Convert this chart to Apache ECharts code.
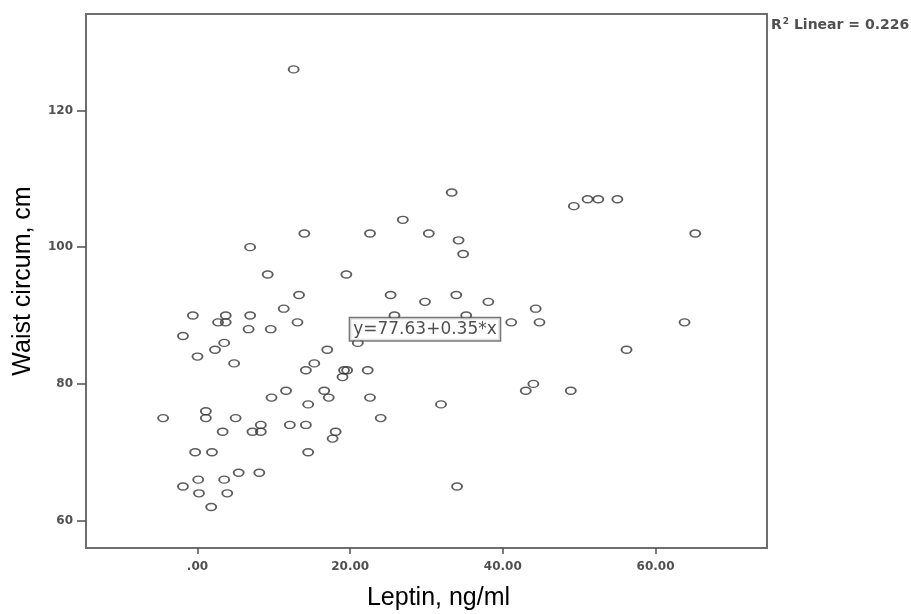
<!DOCTYPE html>
<html>
<head>
<meta charset="utf-8">
<script src="https://cdn.jsdelivr.net/npm/echarts@6/dist/echarts.min.js"></script>
<style>
  html, body { margin: 0; padding: 0; background: #fff; }
  #chart { width: 911px; height: 614px; }
</style>
</head>
<body>
<div id="chart"></div>
<script>
// Leptin (ng/ml) vs waist circumference (cm)
const leptin = [
  -4.5, -1.9, -1.9, -0.6, -0.3, 0.0, 0.1, 0.2, 1.1, 1.1,
  1.9, 1.8, 2.3, 2.7, 3.5, 3.7, 3.7, 3.3, 3.5, 3.9,
  4.8, 5.0, 5.4, 6.7, 6.9, 6.9, 7.2, 8.3, 8.3, 8.1,
  9.2, 9.6, 9.7, 11.3, 11.6, 12.1, 12.6, 13.1, 13.3, 14.0,
  14.2, 14.5, 14.2, 14.5, 15.3, 16.6, 17.0, 17.2, 18.1, 17.7,
  19.2, 19.6, 19.0, 19.5, 21.0, 22.3, 22.6, 22.6, 24.0, 25.3,
  25.8, 26.9, 29.8, 30.3, 31.9, 33.3, 33.9, 34.0, 34.2, 34.8,
  35.2, 38.1, 41.1, 43.0, 44.0, 44.3, 44.8, 48.9, 49.3, 51.1,
  52.5, 55.0, 56.2, 63.8, 65.2
];
const waist = [
  75, 87, 65, 90, 70, 84, 66, 64, 76, 75,
  70, 62, 85, 89, 86, 90, 89, 73, 66, 64,
  83, 75, 67, 88, 90, 100, 73, 73, 74, 67,
  96, 88, 78, 91, 79, 74, 126, 89, 93, 102,
  82, 77, 74, 70, 83, 79, 85, 78, 73, 72,
  82, 82, 81, 96, 86, 82, 78, 102, 75, 93,
  90, 104, 92, 102, 77, 108, 93, 65, 101, 99,
  90, 92, 89, 79, 80, 91, 89, 79, 106, 107,
  107, 107, 85, 89, 102
];
const xTicks = [0, 20, 40, 60];
const yTicks = [60, 80, 100, 120];
const fitLabel = 'y=77.63+0.35*x';
const fitAnchor = [29.8, 88.0];
const r2Text = '0.226';

const points = leptin.map((x, i) => [x, waist[i]]);

const chart = echarts.init(document.getElementById('chart'));

const tickFont = {
  color: '#505050',
  fontFamily: 'DejaVu Sans',
  fontWeight: 'bold',
  fontSize: 12
};
const frameLine = { color: '#6e6e6e', width: 2 };
const r2Font = { fontFamily: 'DejaVu Sans', fontWeight: 'bold', color: '#505050' };

const option = {
  animation: false,
  title: {
    left: 766,
    top: 12,
    text: '{r|R}{s|2}{t| Linear = ' + r2Text + '}',
    textStyle: {
      rich: {
        r: { ...r2Font, fontSize: 14 },
        s: { ...r2Font, fontSize: 9, verticalAlign: 'top', padding: [0, 0, 7, 1] },
        t: { ...r2Font, fontSize: 14 }
      }
    }
  },
  grid: {
    left: 86,
    right: 144,
    top: 14,
    bottom: 66,
    outerBoundsMode: 'none',
    show: true,
    borderColor: '#6e6e6e',
    borderWidth: 2,
    backgroundColor: '#fff'
  },
  xAxis: {
    type: 'value',
    min: -14.6,
    max: 74.6,
    name: 'Leptin, ng/ml',
    nameLocation: 'middle',
    nameGap: 38,
    nameTextStyle: {
      fontFamily: 'Liberation Sans',
      fontSize: 25,
      color: '#000',
      padding: [0, 0, 0, 24]
    },
    axisLine: { show: true, onZero: false, lineStyle: frameLine },
    splitLine: { show: false },
    axisTick: {
      show: true,
      inside: false,
      length: 6,
      customValues: xTicks,
      lineStyle: { color: '#505050', width: 1.5 }
    },
    axisLabel: {
      customValues: xTicks,
      margin: 13,
      formatter: v => (v === 0 ? '.00' : v.toFixed(2)),
      ...tickFont
    }
  },
  yAxis: {
    type: 'value',
    min: 56,
    max: 134.1,
    name: 'Waist circum, cm',
    nameLocation: 'middle',
    nameGap: 50,
    nameTextStyle: {
      fontFamily: 'Liberation Sans',
      fontSize: 25,
      color: '#000'
    },
    axisLine: { show: true, onZero: false, lineStyle: frameLine },
    splitLine: { show: false },
    axisTick: {
      show: true,
      inside: false,
      length: 9,
      customValues: yTicks,
      lineStyle: { color: '#505050', width: 1.5 }
    },
    axisLabel: {
      customValues: yTicks,
      margin: 13,
      ...tickFont
    }
  },
  series: [
    {
      type: 'scatter',
      data: points,
      symbol: 'path://M0,5 A5,5 0 1 1 10,5 A5,5 0 1 1 0,5 Z',
      symbolSize: [10, 7],
      itemStyle: {
        color: 'rgba(255,255,255,0)',
        borderColor: '#333',
        borderWidth: 1.6
      }
    },
    {
      type: 'scatter',
      data: [fitAnchor],
      symbolSize: 0.1,
      z: 5,
      itemStyle: { color: 'rgba(0,0,0,0)' },
      label: {
        show: true,
        position: 'inside',
        formatter: fitLabel,
        fontFamily: 'DejaVu Sans',
        fontSize: 17,
        color: '#222',
        backgroundColor: '#fff',
        borderColor: '#555',
        borderWidth: 1.5,
        padding: [3, 3, 2, 3]
      }
    }
  ]
};

chart.setOption(option);
</script>
</body>
</html>
